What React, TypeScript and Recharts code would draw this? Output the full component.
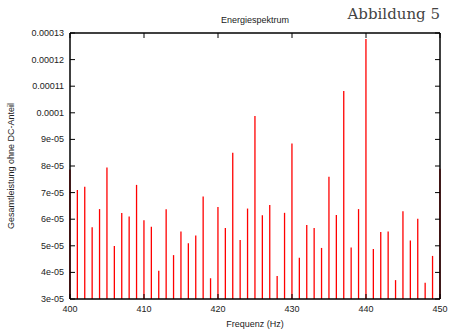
import { BarChart, Bar, XAxis, YAxis, Label } from 'recharts'

const freqs = [
  400, 401, 402, 403, 404, 405, 406, 407, 408, 409,
  410, 411, 412, 413, 414, 415, 416, 417, 418, 419,
  420, 421, 422, 423, 424, 425, 426, 427, 428, 429,
  430, 431, 432, 433, 434, 435, 436, 437, 438, 439,
  440, 441, 442, 443, 444, 445, 446, 447, 448, 449,
  450,
]

// Gesamtleistung ohne DC-Anteil
const power = [
  7.87e-5, 7.1e-5, 7.22e-5, 5.7e-5, 6.38e-5, 7.94e-5, 4.99e-5, 6.23e-5, 6.1e-5, 7.29e-5,
  5.96e-5, 5.72e-5, 4.06e-5, 6.37e-5, 4.65e-5, 5.54e-5, 5.1e-5, 5.39e-5, 6.85e-5, 3.78e-5,
  6.46e-5, 5.67e-5, 8.5e-5, 5.22e-5, 6.4e-5, 9.88e-5, 6.15e-5, 6.53e-5, 3.86e-5, 6.24e-5,
  8.85e-5, 4.55e-5, 5.78e-5, 5.67e-5, 4.92e-5, 7.6e-5, 6.16e-5, 10.82e-5, 4.94e-5, 6.38e-5,
  12.77e-5, 4.88e-5, 5.52e-5, 5.54e-5, 3.71e-5, 6.3e-5, 5.2e-5, 6.02e-5, 3.61e-5, 4.62e-5,
  7.9e-5,
]

const xTicks = [400, 410, 420, 430, 440, 450]
const yTicks = [0.00003, 0.00004, 0.00005, 0.00006, 0.00007, 0.00008, 0.00009, 0.0001, 0.00011, 0.00012, 0.00013]
const yTickLabels = ['3e-05', '4e-05', '5e-05', '6e-05', '7e-05', '8e-05', '9e-05', '0.0001', '0.00011', '0.00012', '0.00013']

const data = freqs.map((f, i) => ({ f, p: power[i] }))

const FONT = '"Liberation Sans", Arial, sans-serif'
const AXIS = '#000'
const TICK = 5

function LeftTick({ x, y, index }: any) {
  return (
    <g>
      <line x1={x} x2={x + TICK} y1={y} y2={y} stroke={AXIS} strokeWidth={1} />
      <text x={x - 6} y={y} dy={3} textAnchor="end" fontSize={9} fontFamily={FONT} fill="#222">
        {yTickLabels[index]}
      </text>
    </g>
  )
}

function RightTick({ x, y }: any) {
  return <line x1={x} x2={x - TICK} y1={y} y2={y} stroke={AXIS} strokeWidth={1} />
}

function BottomTick({ x, y, payload }: any) {
  return (
    <g>
      <line x1={x} x2={x} y1={y} y2={y - TICK} stroke={AXIS} strokeWidth={1} />
      <text x={x} y={y + 13} textAnchor="middle" fontSize={9} fontFamily={FONT} fill="#222">
        {payload.value}
      </text>
    </g>
  )
}

function TopTick({ x, y }: any) {
  return <line x1={x} x2={x} y1={y} y2={y + TICK} stroke={AXIS} strokeWidth={1} />
}

export default function App() {
  return (
    <div style={{ position: 'absolute', left: 0, top: 0, width: 455, height: 329, background: '#fff' }}>
      <svg width={455} height={40} style={{ position: 'absolute', left: 0, top: 0 }}>
        <text x={255} y={23} textAnchor="middle" fontSize={9} fontFamily={FONT} fill="#222">
          Energiespektrum
        </text>
        <text x={440} y={19} textAnchor="end" fontSize={15} fontFamily='"DejaVu Serif", serif' fill="#444">
          Abbildung 5
        </text>
      </svg>
      <BarChart
        width={455}
        height={329}
        data={data}
        margin={{ top: 32, right: 14, bottom: 0, left: 10 }}
        style={{ position: 'absolute', left: 0, top: 0 }}
      >
        <XAxis
          dataKey="f"
          type="number"
          domain={[400, 450]}
          ticks={xTicks}
          height={30}
          tickSize={0}
          tickMargin={0}
          tickLine={false}
          tick={<BottomTick />}
          axisLine={{ stroke: AXIS, strokeWidth: 1.5 }}
          interval={0}
        >
          <Label value="Frequenz (Hz)" position="insideBottom" offset={2} fontSize={9} fontFamily={FONT} fill="#222" />
        </XAxis>
        <XAxis
          xAxisId="top"
          orientation="top"
          dataKey="f"
          type="number"
          domain={[400, 450]}
          ticks={xTicks}
          height={1}
          tickSize={0}
          tickMargin={0}
          tickLine={false}
          tick={<TopTick />}
          axisLine={{ stroke: AXIS, strokeWidth: 1.5 }}
          interval={0}
        />
        <YAxis
          type="number"
          domain={[0.00003, 0.00013]}
          ticks={yTicks}
          allowDataOverflow
          width={60}
          tickSize={0}
          tickMargin={0}
          tickLine={false}
          tick={<LeftTick />}
          axisLine={{ stroke: AXIS, strokeWidth: 1.5 }}
          interval={0}
        >
          <Label
            value="Gesamtleistung ohne DC-Anteil"
            angle={-90}
            position="insideLeft"
            offset={1}
            style={{ textAnchor: 'middle' }}
            fontSize={9}
            fontFamily={FONT}
            fill="#222"
          />
        </YAxis>
        <YAxis
          yAxisId="right"
          orientation="right"
          type="number"
          domain={[0.00003, 0.00013]}
          ticks={yTicks}
          allowDataOverflow
          width={1}
          tickSize={0}
          tickMargin={0}
          tickLine={false}
          tick={<RightTick />}
          axisLine={{ stroke: AXIS, strokeWidth: 1.5 }}
          interval={0}
        />
        <Bar dataKey="p" fill="#ff0000" barSize={1.3} isAnimationActive={false} />
      </BarChart>
    </div>
  )
}
